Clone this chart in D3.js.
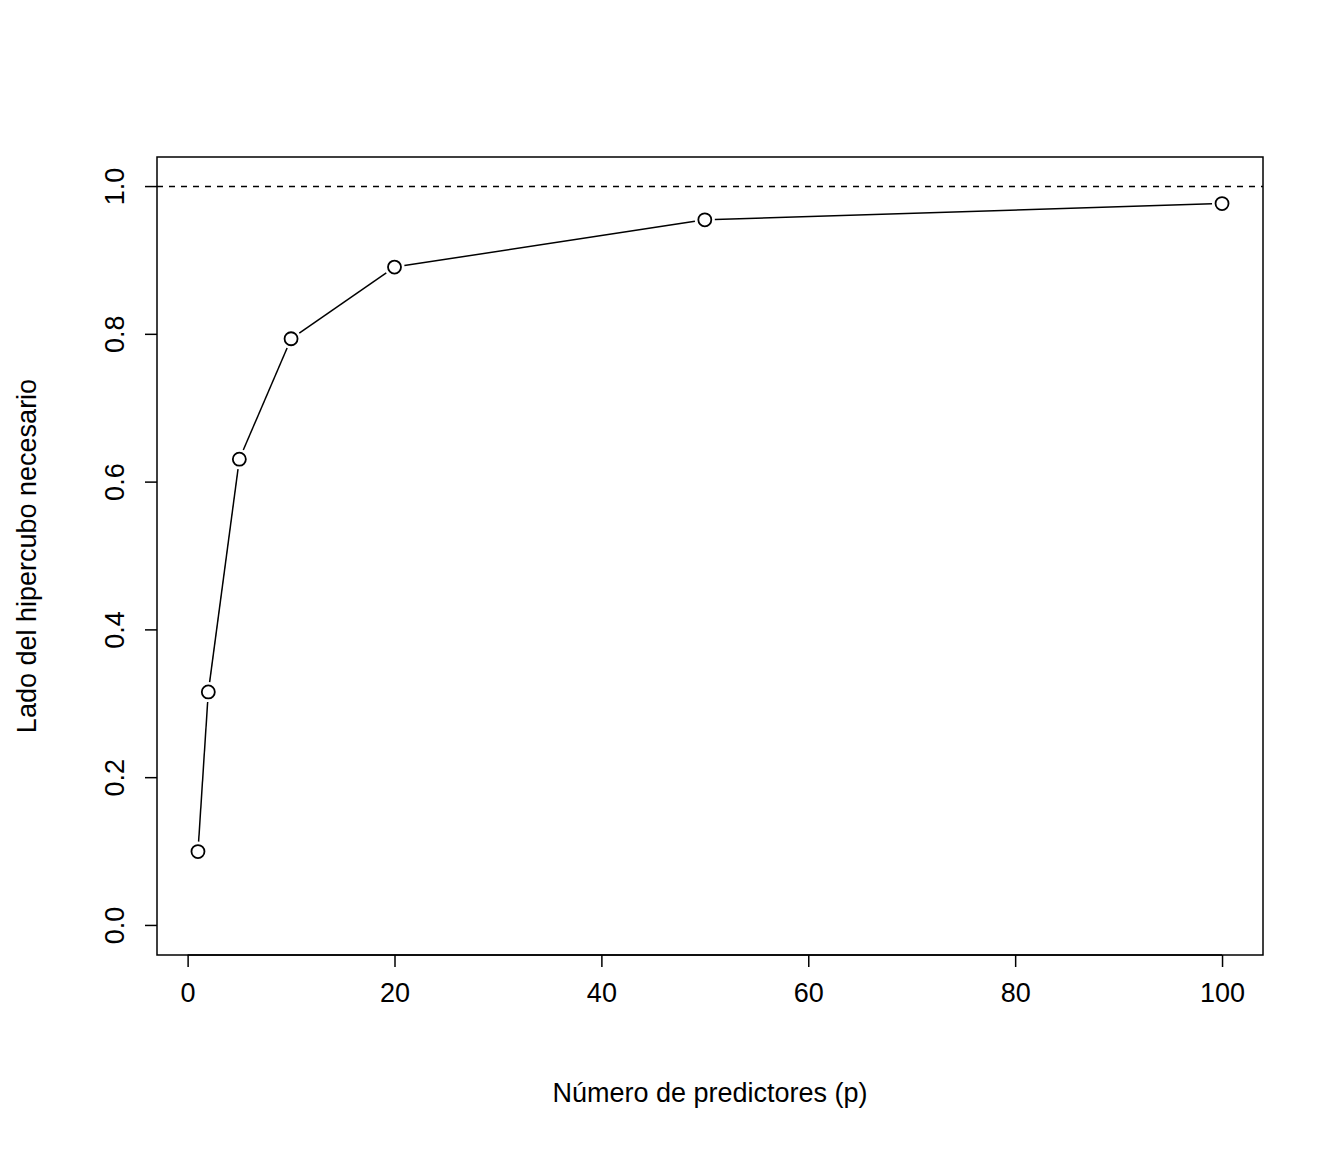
<!DOCTYPE html>
<html><head><meta charset="utf-8">
<script src="https://d3js.org/d3.v7.min.js"></script>
<style>body{margin:0;background:#fff}</style></head>
<body><svg id="c" width="1344" height="1152"></svg>
<script>
const predictors = [1, 2, 5, 10, 20, 50, 100];
const sides = [0.1, 0.316, 0.631, 0.794, 0.891, 0.955, 0.977];
const xTicks = [0, 20, 40, 60, 80, 100];
const yTicks = [0.0, 0.2, 0.4, 0.6, 0.8, 1.0];
const xTitle = "Número de predictores (p)";
const yTitle = "Lado del hipercubo necesario";

const svg = d3.select("#c");
const font = "Liberation Sans, Arial, sans-serif";
const L=157,R=1263,T=157,B=955;
const x = d3.scaleLinear().domain([1-99*0.04, 100+99*0.04]).range([L,R]);
const y = d3.scaleLinear().domain([-0.04,1.04]).range([B,T]);

svg.append("rect").attr("x",L).attr("y",T).attr("width",R-L).attr("height",B-T)
  .attr("fill","none").attr("stroke","#000").attr("stroke-width",1.5);

const xa = svg.append("g").attr("transform",`translate(0,${B})`)
  .call(d3.axisBottom(x).tickValues(xTicks).tickSize(12).tickPadding(16).tickFormat(d3.format("d")));
const ya = svg.append("g").attr("transform",`translate(${L},0)`)
  .call(d3.axisLeft(y).tickValues(yTicks).tickSize(12).tickPadding(0).tickFormat(d3.format(".1f")));
[xa,ya].forEach(a=>{a.select(".domain").remove();
  a.selectAll("line").attr("stroke","#000").attr("stroke-width",1.5);
  a.selectAll("text").attr("font-family",font).attr("font-size",27).attr("fill","#000");});
// x axis line
svg.append("line").attr("x1",x(0)).attr("x2",x(100)).attr("y1",B).attr("y2",B).attr("stroke","#000").attr("stroke-width",1.5);
ya.selectAll("text").attr("transform",function(d){return `translate(${-42},${y(d)}) rotate(-90)`;})
  .attr("x",0).attr("y",0).attr("dy","0.35em").attr("text-anchor","middle");
ya.selectAll(".tick").attr("transform",null);
ya.selectAll(".tick line").attr("y1",d=>y(d)).attr("y2",d=>y(d));

svg.append("line").attr("x1",L).attr("x2",R).attr("y1",y(1)).attr("y2",y(1))
  .attr("stroke","#000").attr("stroke-width",1.5).attr("stroke-dasharray","6,6");

const pts = predictors.map((p,i)=>[x(p),y(sides[i])]);
const gap=10;
for(let i=0;i<pts.length-1;i++){
  const [x1,y1]=pts[i],[x2,y2]=pts[i+1];
  const dx=x2-x1,dy=y2-y1,len=Math.hypot(dx,dy);
  if(len<=2*gap) continue;
  const ux=dx/len,uy=dy/len;
  svg.append("line").attr("x1",x1+ux*gap).attr("y1",y1+uy*gap).attr("x2",x2-ux*gap).attr("y2",y2-uy*gap)
    .attr("stroke","#000").attr("stroke-width",1.5);
}
svg.selectAll("circle.p").data(pts).enter().append("circle")
  .attr("cx",d=>d[0]).attr("cy",d=>d[1]).attr("r",6.5).attr("fill","none").attr("stroke","#000").attr("stroke-width",1.8);

svg.append("text").attr("x",(L+R)/2).attr("y",1102).attr("text-anchor","middle")
  .attr("font-family",font).attr("font-size",27).text(xTitle);
svg.append("text").attr("transform",`translate(36,${(T+B)/2}) rotate(-90)`).attr("text-anchor","middle")
  .attr("font-family",font).attr("font-size",27).text(yTitle);
</script></body></html>
